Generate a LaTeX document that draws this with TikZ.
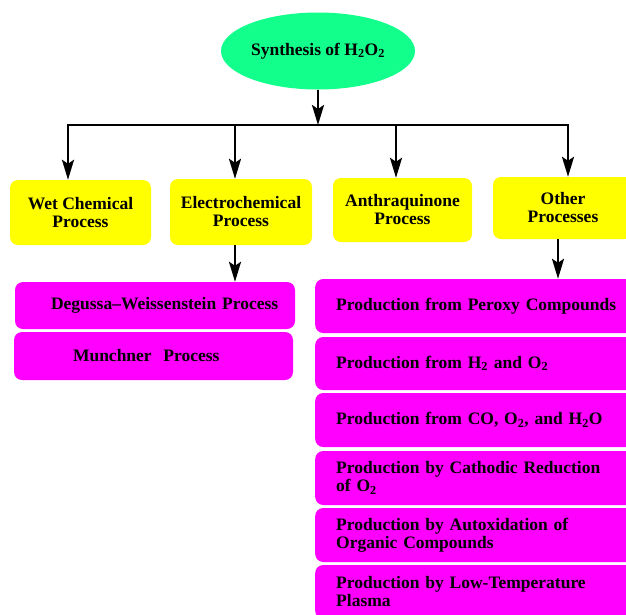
\documentclass[tikz,border=0pt]{standalone}
\usepackage{fontspec}
\setmainfont{Liberation Serif}
\usetikzlibrary{shapes.geometric,arrows.meta}

\definecolor{syngreen}{RGB}{18,255,140}
\definecolor{boxyellow}{RGB}{255,255,0}
\definecolor{boxpink}{RGB}{255,0,255}

\begin{document}
\begin{tikzpicture}[x=1pt,y=-1pt]
        \tikzstyle{every node}=[font=\fontsize{17.5}{18}\selectfont\bfseries, inner sep=0pt]
        \tikzstyle{yellowbox}=[fill=boxyellow, rounded corners=8pt, align=center]
        \tikzstyle{pinkbox}=[fill=boxpink, rounded corners=8pt, align=left, inner xsep=10pt]
        \tikzstyle{prodbox}=[fill=boxpink, rounded corners=8pt, align=left, anchor=west,
                             text width=290pt, inner xsep=21pt, minimum height=54pt]
        \tikzstyle{arr}=[line width=2.6pt, -{Stealth[length=20pt,width=12pt,inset=4pt]}]
        \useasboundingbox (0,0) rectangle (626,614);

        \node[ellipse, fill=syngreen, minimum width=194pt, minimum height=77pt] (syn) at (318,51)
                {Synthesis of H\textsubscript{2}O\textsubscript{2}};

        \node[yellowbox, minimum width=141pt, minimum height=65pt] (wet) at (80.5,212.5) {Wet Chemical\\Process};
        \node[yellowbox, minimum width=142pt, minimum height=66pt] (elec) at (241,212) {Electrochemical\\Process};
        \node[yellowbox, minimum width=139pt, minimum height=64pt] (anth) at (402.5,210) {Anthraquinone\\Process};
        \node[yellowbox, minimum width=140pt, minimum height=62pt] (other) at (563,208) {Other\\Processes};

        \node[pinkbox, text width=260pt, minimum height=47pt] (degussa) at (155,305.5)
                {\hspace*{26pt}Degussa--Weissenstein Process};
        \node[pinkbox, text width=259pt, minimum height=48pt] (munchner) at (153.5,356)
                {\hspace*{49pt}Munchner\ \ Process};

        \node[prodbox] (peroxy) at (315,306) {Production from Peroxy Compounds};
        \node[prodbox, minimum height=53pt] (hydro) at (315,363.5) {Production from H\textsubscript{2} and O\textsubscript{2}};
        \node[prodbox] (carbon) at (315,420) {Production from CO, O\textsubscript{2}, and H\textsubscript{2}O};
        \node[prodbox] (cathodic) at (315,478) {Production by Cathodic Reduction\\of O\textsubscript{2}};
        \node[prodbox] (autox) at (315,535) {Production by Autoxidation of\\Organic Compounds};
        \node[prodbox] (plasma) at (315,592) {Production by Low-Temperature\\Plasma};

        % branching bar
        \coordinate (b1) at (68,125);
        \coordinate (b2) at (235,125);
        \coordinate (b3) at (396,125);
        \coordinate (b4) at (568,125);
        \draw[line width=2.6pt] ([xshift=-1.3pt]b1) -- ([xshift=1.3pt]b4);
        \draw[arr] (syn.south) -- (syn.south |- b1);
        \draw[arr] (b1) -- (b1 |- wet.north);
        \draw[arr] (b2) -- (b2 |- elec.north);
        \draw[arr] (b3) -- (b3 |- anth.north);
        \draw[arr] (b4) -- (b4 |- other.north);

        \draw[arr] (elec.south -| b2) -- (degussa.north -| b2);
        \draw[arr] ([xshift=-5pt]other.south) -- ([xshift=-5pt]other.south |- peroxy.north);
    \end{tikzpicture}
\end{document}
